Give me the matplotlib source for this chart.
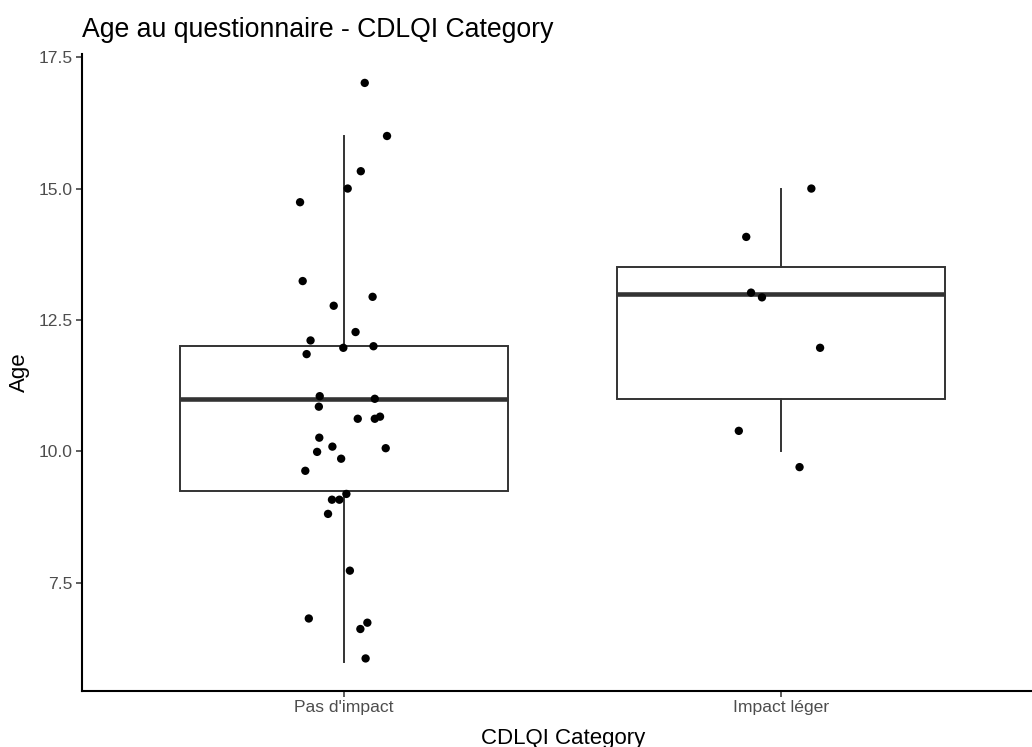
import matplotlib
matplotlib.use("Agg")
import matplotlib.pyplot as plt
import numpy as np

plt.rcParams["font.family"] = ["Liberation Sans", "DejaVu Sans"]

# Categories shown on the x axis
categories = ["Pas d'impact", "Impact léger"]

# Age at questionnaire (whole years) per CDLQI category
ages_pas_impact = [17, 16, 15, 15, 15, 13, 13, 13, 12, 12, 12, 12, 12, 11, 11, 11, 11,
                   11, 11, 10, 10, 10, 10, 10, 10, 9, 9, 9, 9, 8, 7, 7, 7, 6]
ages_impact_leger = [15, 14, 13, 13, 12, 10, 10]

# Jitter offsets applied to each point (horizontal in category units, vertical in years)
jitter_x_pas_impact = [0.047, 0.098, 0.038, 0.008, -0.101, -0.095, 0.065, -0.024, 0.026,
                       -0.077, -0.002, 0.067, -0.086, -0.056, 0.070, -0.058, 0.031, 0.070,
                       0.082, -0.057, -0.027, 0.095, -0.062, -0.007, -0.089, 0.005, -0.028,
                       -0.011, -0.037, 0.013, -0.081, 0.053, 0.037, 0.049]
jitter_y_pas_impact = [0.01, 0.00, 0.33, 0.00, -0.26, 0.24, -0.06, -0.23, 0.27, 0.11,
                       -0.03, 0.00, -0.15, 0.05, 0.00, -0.15, -0.38, -0.38, -0.34, 0.26,
                       0.09, 0.06, -0.01, -0.14, -0.37, 0.19, 0.08, 0.08, -0.19, -0.27,
                       -0.18, -0.26, -0.38, 0.06]
jitter_x_impact_leger = [0.069, -0.080, -0.069, -0.044, 0.089, -0.097, 0.042]
jitter_y_impact_leger = [0.00, 0.08, 0.02, -0.07, -0.03, 0.39, -0.30]

groups = [ages_pas_impact, ages_impact_leger]
jitter_x = [jitter_x_pas_impact, jitter_x_impact_leger]
jitter_y = [jitter_y_pas_impact, jitter_y_impact_leger]

box_col = "#333333"

fig = plt.figure(figsize=(10.32, 7.47), dpi=100)
ax = fig.add_axes([82 / 1032, 56.5 / 747, 961.4 / 1032, 636.5 / 747])

positions = np.arange(1, len(categories) + 1)
ax.boxplot(
    groups,
    positions=positions,
    widths=0.75,
    whis=1.5,
    showfliers=False,
    showcaps=False,
    patch_artist=True,
    boxprops=dict(facecolor="white", edgecolor=box_col, linewidth=1.4),
    whiskerprops=dict(color=box_col, linewidth=1.4),
    medianprops=dict(color=box_col, linewidth=3.3, solid_capstyle="butt"),
    zorder=2,
)

for pos, ages, jx, jy in zip(positions, groups, jitter_x, jitter_y):
    xs = pos + np.array(jx)
    ys = np.array(ages, dtype=float) + np.array(jy)
    ax.scatter(xs, ys, s=36, color="black", edgecolors="none", zorder=3)

ax.set_xlim(0.4, 2.6)
ax.set_ylim(5.45, 17.56)
ax.set_xticks(positions)
ax.set_xticklabels(categories)
ax.set_yticks([7.5, 10.0, 12.5, 15.0, 17.5])
ax.set_yticklabels([f"{v:.1f}" for v in [7.5, 10.0, 12.5, 15.0, 17.5]])

for side in ["top", "right"]:
    ax.spines[side].set_visible(False)
for side in ["left", "bottom"]:
    ax.spines[side].set_color("black")
    ax.spines[side].set_linewidth(1.5)

ax.tick_params(axis="both", length=4, width=1.1, color=box_col,
               labelcolor="#4D4D4D", labelsize=12.6, pad=2.5)

fig.text(82 / 1032, 1 - 37 / 747, "Age au questionnaire - CDLQI Category",
         fontsize=19.2, color="black", ha="left", va="baseline")
fig.text(563 / 1032, 1 - 744 / 747, "CDLQI Category",
         fontsize=16, color="black", ha="center", va="baseline")
fig.text(19 / 1032, 1 - 372 / 747, "Age",
         fontsize=16, color="black", ha="center", va="center", rotation=90)

fig.savefig("out.png", dpi=100)
